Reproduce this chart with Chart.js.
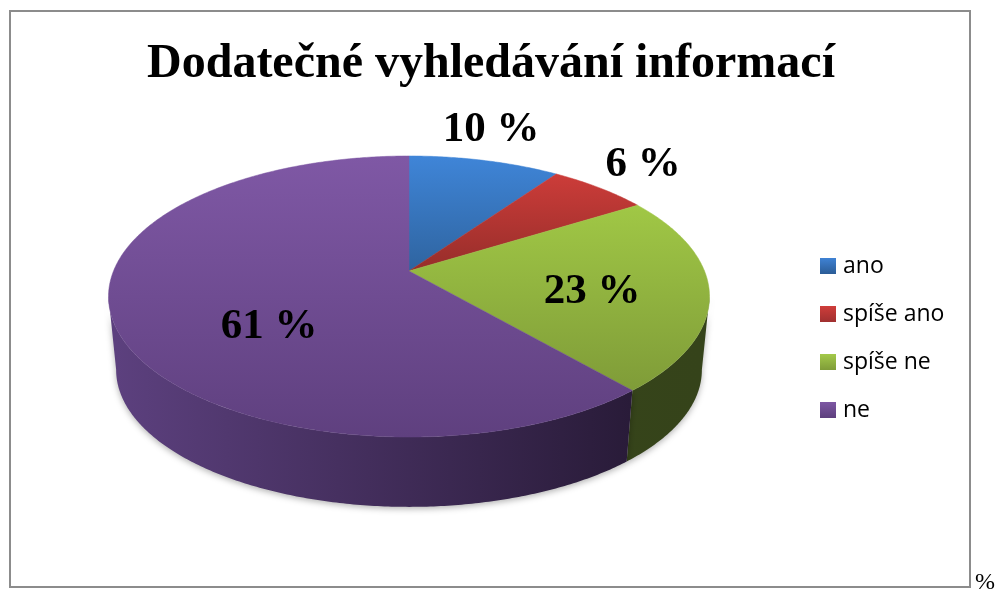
<!DOCTYPE html>
<html lang="cs">
  <head>
    <meta charset="UTF-8" />
    <title>Dodatečné vyhledávání informací</title>
    <script src="https://cdn.jsdelivr.net/npm/chart.js"></script>
    <style>
      body { margin: 0; background: #fff; }
      canvas { display: block; }
    </style>
  </head>
  <body>
    <canvas id="pieChart" width="996" height="589"></canvas>
    <script>
      const categories = ["ano", "spíše ano", "spíše ne", "ne"];
      const shares = [9.7, 6.4, 22.6, 61.3];
      const chartTitle = "Dodatečné vyhledávání informací";
      const strayMark = "%";

      const legendColors = [
        ["#3f82d4", "#2b5c96"],
        ["#cf3d3a", "#a03030"],
        ["#a3c94a", "#7f9c38"],
        ["#7d57a3", "#5d3f7d"],
      ];
      const topColors = [
        ["#3f85d8", "#17344d"],
        ["#d63f3c", "#3b1410"],
        ["#a9d349", "#779135"],
        ["#7f58a5", "#5f407f"],
      ];
      const sideColors = [
        ["#24456b", "#24456b"],
        ["#6e2120", "#6e2120"],
        ["#3a4a1a", "#35431a"],
        ["#5c407e", "#22162f"],
      ];
      // where the percentage labels sit, text centre
      const labelSpots = [
        [491, 130],
        [643, 165],
        [592, 292],
        [269, 327],
      ];

      // perspective of the pie disc: near edge looks bigger than far edge
      const lean = 0.1815;
      const topDisc = { cx: 409, cy: 271, a: 295.5, b: 135.9 };
      const baseDisc = { cx: 409, cy: 345, a: 288, b: 132.5 };
      // angles where the wall starts and stops being visible
      const wallFrom = Math.acos(-lean);
      const wallTo = 2 * Math.PI - wallFrom;

      const legendFont = 23;
      const legendGap = 25;
      const legendRowTop = 254.5;
      const legendX = 820;

      function project(disc, angle) {
        const z = Math.cos(angle);
        const w = 1 + lean * z;
        return [disc.cx + (disc.a * Math.sin(angle)) / w, disc.cy - (disc.b * z) / w];
      }

      function rim(ctx, disc, from, to) {
        const steps = Math.max(2, Math.ceil(Math.abs(to - from) / 0.01));
        for (let i = 0; i <= steps; i++) {
          const p = project(disc, from + ((to - from) * i) / steps);
          ctx.lineTo(p[0], p[1]);
        }
      }

      const pie3d = {
        id: "pie3d",
        afterLayout(chart) {
          const lg = chart.legend;
          const h = lg.bottom - lg.top;
          lg.left = legendX - legendGap;
          lg.right = lg.left + lg.width;
          lg.top = legendRowTop - legendGap;
          lg.bottom = lg.top + h;
        },
        beforeDatasetsDraw(chart) {
          const ctx = chart.ctx;
          const arcs = chart.getDatasetMeta(0).data.map((arc) => ({
            from: arc.startAngle + Math.PI / 2,
            to: arc.endAngle + Math.PI / 2,
          }));

          // frame
          ctx.save();
          ctx.strokeStyle = "#8c8c8c";
          ctx.lineWidth = 2;
          ctx.strokeRect(10, 11, 960, 576);
          ctx.restore();

          // wall, only the front part shows
          arcs.forEach((arc, i) => {
            const from = Math.max(arc.from, wallFrom);
            const to = Math.min(arc.to, wallTo);
            if (to <= from) return;
            const grad = ctx.createLinearGradient(116, 0, 702, 0);
            grad.addColorStop(0, sideColors[i][0]);
            grad.addColorStop(1, sideColors[i][1]);
            ctx.save();
            ctx.shadowColor = "rgba(0,0,0,0.3)";
            ctx.shadowBlur = 6;
            ctx.shadowOffsetY = 2;
            ctx.fillStyle = grad;
            ctx.beginPath();
            rim(ctx, topDisc, from, to);
            rim(ctx, baseDisc, to, from);
            ctx.closePath();
            ctx.fill();
            ctx.restore();
          });

          // top face
          arcs.forEach((arc, i) => {
            const grad = ctx.createLinearGradient(0, 156, 0, 437);
            grad.addColorStop(0, topColors[i][0]);
            grad.addColorStop(1, topColors[i][1]);
            ctx.fillStyle = grad;
            ctx.strokeStyle = grad;
            ctx.lineWidth = 0.5;
            ctx.beginPath();
            ctx.moveTo(topDisc.cx, topDisc.cy);
            rim(ctx, topDisc, arc.from, arc.to);
            ctx.closePath();
            ctx.fill();
            ctx.stroke();
          });

          return false;
        },
        afterDraw(chart) {
          const ctx = chart.ctx;
          ctx.save();

          // legend swatches, the library only lays out the text rows
          categories.forEach((c, i) => {
            const y = legendRowTop + 3.5 + i * (legendFont + legendGap);
            const grad = ctx.createLinearGradient(0, y, 0, y + 16);
            grad.addColorStop(0, legendColors[i][0]);
            grad.addColorStop(1, legendColors[i][1]);
            ctx.fillStyle = grad;
            ctx.fillRect(legendX, y, 16, 16);
          });

          ctx.fillStyle = "#000";
          ctx.textAlign = "center";
          ctx.textBaseline = "middle";
          ctx.font = "bold 43px 'Liberation Serif'";
          shares.forEach((v, i) => {
            ctx.fillText(Math.round(v) + " %", labelSpots[i][0], labelSpots[i][1]);
          });
          ctx.textAlign = "left";
          ctx.textBaseline = "alphabetic";
          ctx.font = "24px 'Liberation Serif'";
          ctx.fillText(strayMark, 975, 589);
          ctx.restore();
        },
      };

      new Chart(document.getElementById("pieChart").getContext("2d"), {
        type: "pie",
        data: {
          labels: categories,
          datasets: [{ data: shares, backgroundColor: legendColors.map((c) => c[0]), borderWidth: 0 }],
        },
        plugins: [pie3d],
        options: {
          responsive: false,
          animation: false,
          layout: { padding: { right: 14 } },
          plugins: {
            tooltip: { enabled: false },
            title: {
              display: true,
              text: chartTitle,
              color: "#000",
              font: { family: "'Liberation Serif'", size: 48, weight: "bold" },
              padding: { top: 36, bottom: 10 },
            },
            legend: {
              position: "right",
              align: "start",
              labels: {
                color: "#000",
                font: { family: "'Open Sans'", size: legendFont },
                boxWidth: legendFont / 2,
                boxHeight: 16,
                padding: legendGap,
                generateLabels(chart) {
                  return Chart.overrides.pie.plugins.legend.labels.generateLabels(chart).map((item) => {
                    item.fillStyle = "rgba(0,0,0,0)";
                    item.strokeStyle = "rgba(0,0,0,0)";
                    item.lineWidth = 0;
                    return item;
                  });
                },
              },
            },
          },
        },
      });
    </script>
  </body>
</html>
